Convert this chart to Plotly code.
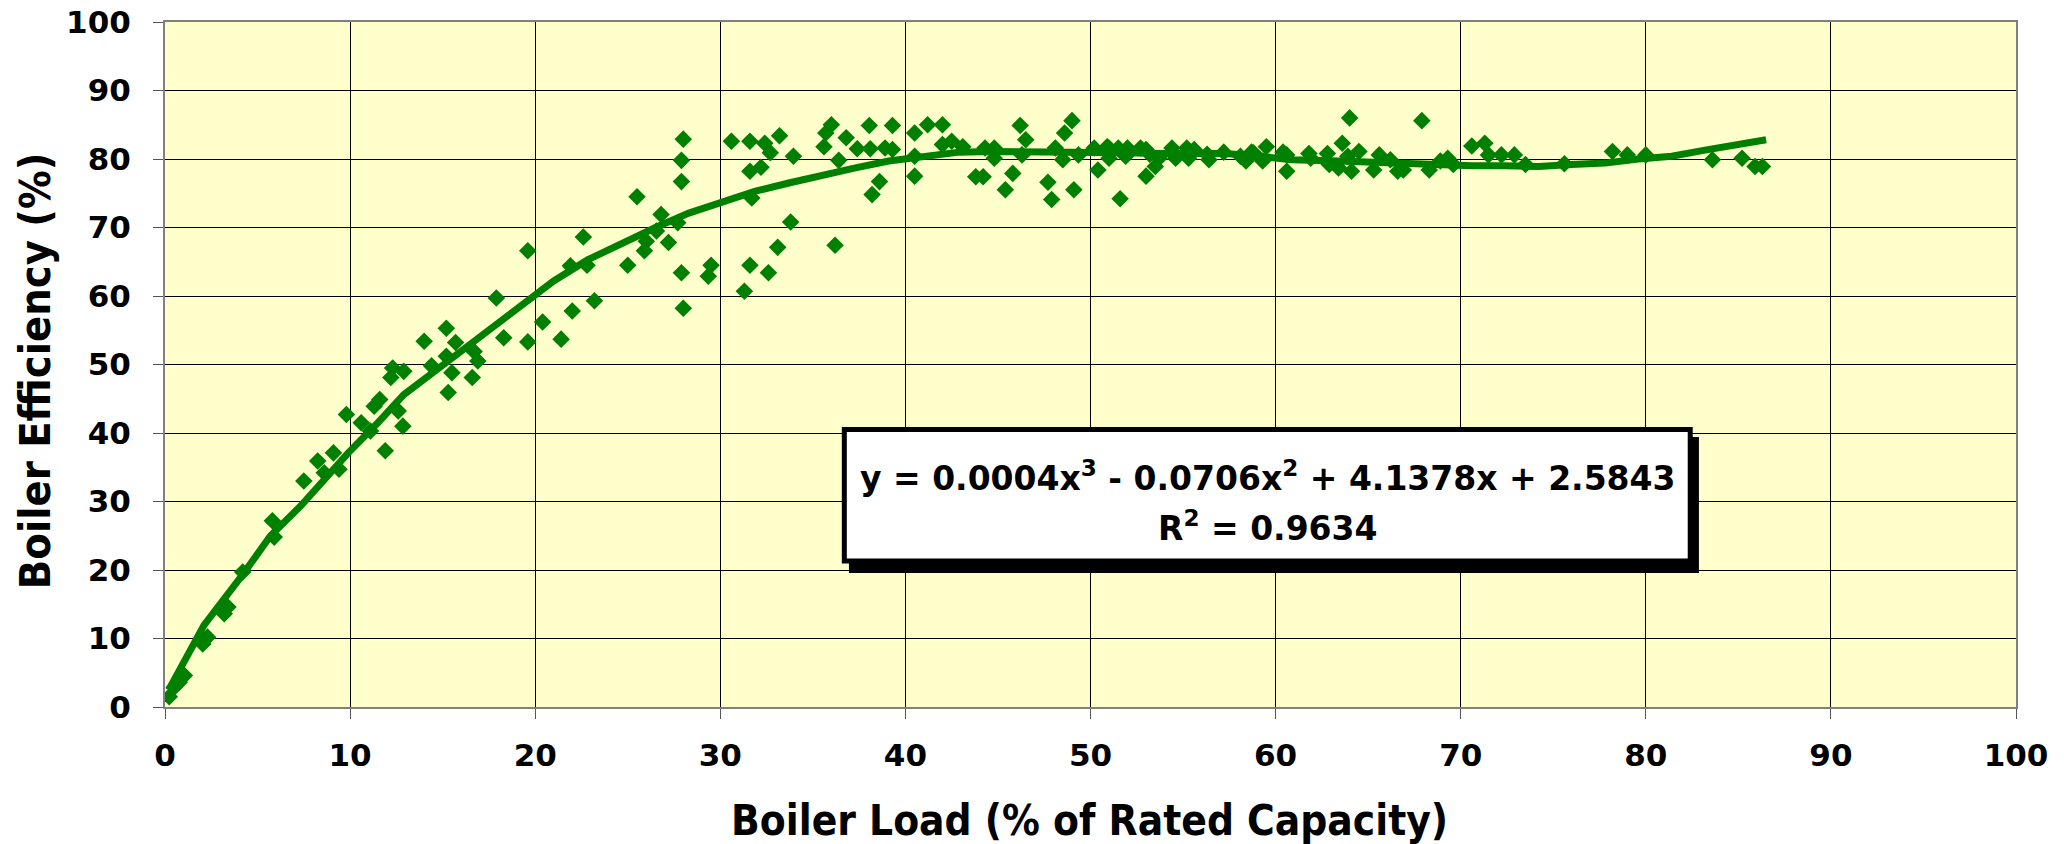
import plotly.graph_objects as go

# ---- data ----
load_pct = [
    0.23, 0.5, 0.77, 1.05, 2.04, 2.3, 3.2, 3.4, 4.2, 5.8, 5.9, 7.5, 8.25, 8.6, 9.1, 9.4, 9.8,
    10.6, 11.1, 11.3, 11.6, 11.9, 12.2, 12.3, 12.9, 12.6, 12.85, 14.0, 14.4, 15.2, 15.2, 15.5,
    15.3, 15.7, 16.7, 16.9, 16.6, 17.9, 18.3, 19.6, 20.4,
    19.6, 21.4, 22.0, 23.2, 21.9, 22.6, 22.8, 25.0, 25.5, 25.9, 26.0, 26.8, 27.2, 26.55, 27.7,
    28.0, 27.9, 27.9, 27.9, 28.0, 29.35, 29.5, 30.6, 31.3, 31.6, 31.6, 31.6, 31.7, 32.2, 32.4,
    32.7, 32.6, 33.1, 33.2, 33.8, 33.95, 35.6, 35.7, 36.0, 36.2, 36.4, 36.8, 37.4, 38.05, 38.1,
    38.6, 38.2, 38.9, 39.3, 39.3, 40.5, 40.5, 40.5,
    41.2, 42.0, 42.0, 42.5, 43.1, 43.8, 44.2, 44.3, 44.8, 44.8, 45.4, 45.8, 46.2, 46.5, 46.3,
    47.7, 47.9, 48.1, 48.5, 48.6, 49.0, 49.1, 49.35, 50.2, 50.4, 51.0, 51.0, 51.5, 51.6, 52.0,
    51.9, 53.0, 53.0, 53.5, 53.7, 54.4, 54.6, 55.2, 55.3, 56.4, 58.1, 58.8, 59.3, 59.5, 60.6,
    60.6, 50.9, 52.7, 53.2, 55.6, 56.3, 57.2, 58.4, 58.7, 60.4, 61.8, 62.8,
    61.9, 62.9, 63.4, 63.6, 64.0, 64.1, 64.5, 63.9, 65.3, 65.6, 66.2, 66.6, 66.9, 67.9, 68.3,
    68.9, 69.3, 69.6, 70.6, 71.3, 71.5, 72.2, 72.9, 73.5, 75.6, 78.2, 79.0, 80.0, 83.6, 85.2,
    85.9, 86.3,
]
efficiency_pct = [
    1.5, 2.9, 3.6, 4.6, 9.2, 10.2, 13.6, 14.6, 19.7, 27.2, 24.8, 33.0, 35.9, 34.2, 37.1, 34.7, 42.7,
    41.5, 40.3, 43.9, 44.9, 37.4, 48.1, 49.5, 49.0, 43.2, 41.0, 53.4, 49.8, 55.3, 51.2, 48.8,
    45.9, 53.2, 51.9, 50.5, 48.1, 59.7, 53.9, 53.3, 56.2,
    66.6, 53.7, 57.8, 59.3, 64.4, 68.6, 64.5, 64.5, 74.5, 66.6, 68.0, 71.9, 67.8, 69.5, 70.7,
    82.9, 79.8, 76.7, 63.4, 58.2, 62.9, 64.5, 82.6, 60.7, 64.5, 82.6, 78.2, 74.3, 78.8, 82.3,
    80.9, 63.4, 67.1, 83.4, 70.8, 80.4, 81.8, 83.8, 85.0, 67.4, 79.8, 83.1, 81.5, 84.9, 81.5,
    76.7, 74.8, 81.6, 84.9, 81.4, 83.8, 77.5, 80.4,
    85.0, 85.0, 82.1, 82.6, 81.8, 77.4, 77.4, 81.6, 81.6, 80.1, 75.5, 77.9, 84.9, 82.8, 80.6,
    76.6, 74.1, 81.6, 79.9, 83.8, 85.6, 75.5, 80.6, 81.6, 78.4, 81.6, 80.1, 81.6, 74.2, 81.6,
    80.4, 77.5, 81.4, 78.9, 80.1, 81.6, 80.1, 81.6, 80.1, 79.9, 80.4, 80.9, 79.7, 81.8, 78.2,
    80.6, 81.8, 81.6, 80.7, 81.4, 80.7, 81.0, 79.7, 81.0, 81.0, 80.8, 80.8,
    80.1, 79.2, 78.7, 82.3, 86.0, 78.2, 81.1, 80.4, 78.4, 80.6, 79.9, 78.2, 78.4, 85.6, 78.4,
    79.7, 80.1, 79.2, 81.9, 82.3, 80.6, 80.6, 80.6, 79.2, 79.3, 81.1, 80.6, 80.6, 79.9, 80.1,
    78.9, 78.9,
]

# trend line
trend_x = [0.2, 2.1, 4.3, 5.7, 7.35, 9.9, 11.5, 12.9, 15.3, 17.8, 19.6, 21.0, 22.85, 24.7, 26.5,
           28.3, 30.1, 31.9, 33.7, 35.5, 37.3, 39.1, 40.9, 42.9, 44.7, 46.5, 48.3, 50.1, 51.9,
           53.7, 55.5, 57.3, 59.1, 60.9, 63.4, 65.2, 67.0, 68.8, 70.6, 72.4, 74.2, 76.0, 77.8,
           79.6, 81.4, 83.2, 85.0, 86.5]
trend_y = [2.5, 11.9, 19.7, 25.0, 29.4, 37.1, 41.5, 45.6, 50.5, 55.6, 59.2, 62.2, 65.3, 67.8, 70.0,
           72.1, 73.6, 75.3, 76.5, 77.7, 78.7, 79.7, 80.4, 81.0, 81.1, 81.1, 81.0, 80.9, 80.9,
           80.8, 80.8, 80.8, 80.4, 79.9, 79.7, 79.5, 79.4, 79.2, 79.0, 79.0, 78.9, 79.2, 79.4,
           80.0, 80.4, 81.3, 82.1, 82.8]

x_ticks = [0, 10, 20, 30, 40, 50, 60, 70, 80, 90, 100]
y_ticks = [0, 10, 20, 30, 40, 50, 60, 70, 80, 90, 100]

x_title = "Boiler Load (% of Rated Capacity)"
y_title = "Boiler Efficiency (%)"
equation_text = "y = 0.0004x<sup>3</sup> - 0.0706x<sup>2</sup> + 4.1378x + 2.5843"
r2_text = "R<sup>2</sup> = 0.9634"

GREEN = "#008000"
FONT = "Verdana, DejaVu Sans, sans-serif"
TITLE_FONT = "DejaVu Sans Condensed, Liberation Sans Narrow, DejaVu Sans, sans-serif"

fig = go.Figure()
fig.add_trace(go.Scatter(
    x=load_pct, y=efficiency_pct, mode="markers",
    marker=dict(symbol="diamond", size=13.5, color=GREEN, line=dict(width=0)),
    showlegend=False, hoverinfo="x+y",
))
fig.add_trace(go.Scatter(
    x=trend_x, y=trend_y, mode="lines",
    line=dict(color=GREEN, width=7),
    showlegend=False, hoverinfo="skip",
))

axis_common = dict(
    showgrid=True, gridcolor="#000000", gridwidth=1,
    showline=True, linecolor="#808080", linewidth=2, mirror=True,
    ticks="outside", ticklen=10, tickcolor="#555555", tickwidth=1,
    zeroline=False,
    tickfont=dict(family=FONT, size=31, color="#000000", weight="bold"),
)

fig.update_xaxes(range=[0, 100], tickvals=x_ticks, ticktext=[str(v) for v in x_ticks],
                 ticklabelstandoff=10, **axis_common)
fig.update_yaxes(range=[0, 100], tickvals=y_ticks, ticktext=[str(v) for v in y_ticks],
                 ticklabelstandoff=16, **axis_common)

# axis titles
fig.add_annotation(xref="paper", yref="paper", x=0.4992, y=-0.166,
                   text=x_title, showarrow=False,
                   font=dict(family=TITLE_FONT, size=42, color="#000000", weight="bold"),
                   xanchor="center", yanchor="middle")
fig.add_annotation(xref="paper", yref="paper", x=-0.0705, y=0.491,
                   text=y_title, showarrow=False, textangle=-90,
                   font=dict(family=TITLE_FONT, size=43, color="#000000", weight="bold"),
                   xanchor="center", yanchor="middle")

# equation box: shadow + white box
fig.add_shape(type="rect", xref="paper", yref="paper",
              x0=0.3695, x1=0.8287, y0=0.1956, y1=0.3942,
              fillcolor="#000000", line=dict(width=0), layer="above")
fig.add_shape(type="rect", xref="paper", yref="paper",
              x0=0.3670, x1=0.8240, y0=0.2130, y1=0.4050,
              fillcolor="#FFFFFF", line=dict(color="#000000", width=5), layer="above")

fig.add_annotation(xref="paper", yref="paper", x=0.5955, y=0.3358,
                   text=equation_text, showarrow=False,
                   font=dict(family=FONT, size=33, color="#000000", weight="bold"),
                   xanchor="center", yanchor="middle")
fig.add_annotation(xref="paper", yref="paper", x=0.5955, y=0.2628,
                   text=r2_text, showarrow=False,
                   font=dict(family=FONT, size=33, color="#000000", weight="bold"),
                   xanchor="center", yanchor="middle")

fig.update_layout(
    width=2064, height=844,
    margin=dict(l=165, r=48, t=22, b=137, autoexpand=False),
    plot_bgcolor="#FFFFCC", paper_bgcolor="#FFFFFF",
    font=dict(family=FONT, color="#000000"),
)

fig.write_html("out.html", config={"displayModeBar": False},
               post_script="document.body.style.margin='0px';")
